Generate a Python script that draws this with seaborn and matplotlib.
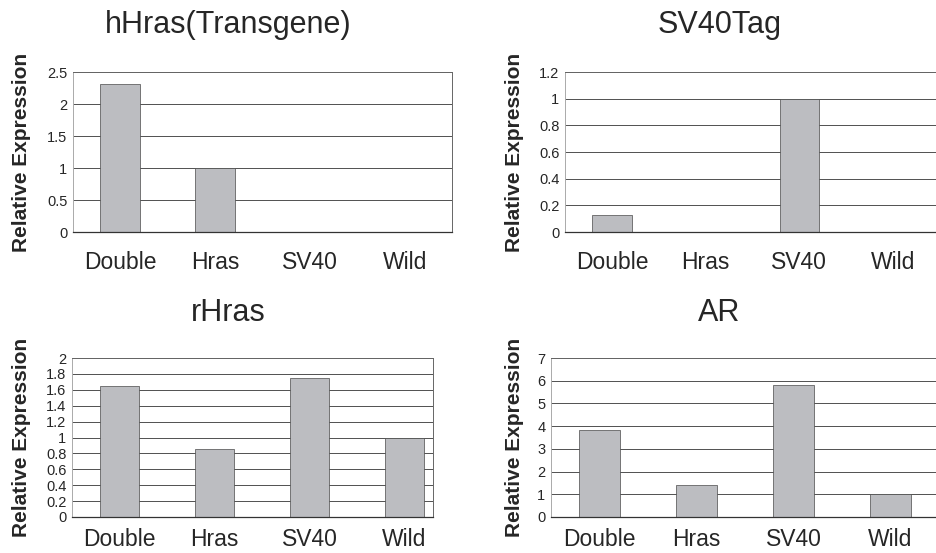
import pandas as pd
import seaborn as sns
import matplotlib.pyplot as plt

groups = ['Double', 'Hras', 'SV40', 'Wild']

hhras = [2.31, 1.0, 0.0, 0.0]
sv40tag = [0.125, 0.0, 1.0, 0.0]
rhras = [1.65, 0.86, 1.75, 1.0]
ar = [3.85, 1.4, 5.8, 1.0]

titles = ['hHras(Transgene)', 'SV40Tag', 'rHras', 'AR']
ymax = [2.5, 1.2, 2.0, 7.0]
ysteps = [0.5, 0.2, 0.2, 1.0]
ylabel = 'Relative Expression'

sns.set_style('white')
plt.rcParams['font.family'] = ['Liberation Sans', 'DejaVu Sans']

W, H = 936, 553
fig = plt.figure(figsize=(W / 100, H / 100), dpi=100)

# axes boxes in pixels: left, right, top, bottom (right edges cropped in the source)
boxes = [(73, 452, 72, 232), (565, 940, 72, 232),
         (72, 433, 358, 517), (551, 939, 358, 517)]
xright = [3.5, 3.5, 3.3, 3.5]
title_pos = [(228, 25), (720, 25), (228, 313), (719, 313)]
ylab_x = [22, 514, 22, 514]
xpad = [14, 14, 8, 8]

bar_color = '#bcbdc1'

for i, vals in enumerate([hhras, sv40tag, rhras, ar]):
    l, r, t, b = boxes[i]
    ax = fig.add_axes([l / W, 1 - b / H, (r - l) / W, (b - t) / H])
    df = pd.DataFrame({'group': groups, 'value': vals})
    sns.barplot(data=df, x='group', y='value', ax=ax, color=bar_color,
                saturation=1, width=0.42, edgecolor='#4a4a4a', linewidth=0.5)
    ax.set_xlim(-0.5, xright[i])
    ax.set_ylim(0, ymax[i])
    n = int(round(ymax[i] / ysteps[i]))
    ticks = [round(k * ysteps[i], 2) for k in range(n + 1)]
    ax.set_yticks(ticks)
    ax.set_yticklabels([f'{v:g}' for v in ticks], fontsize=10.5)
    ax.yaxis.grid(True, color='#505050', linewidth=0.7)
    ax.set_axisbelow(True)
    ax.tick_params(axis='y', length=0, pad=4)
    ax.tick_params(axis='x', which='major', length=0, pad=xpad[i], labelsize=16.5)
    ax.set_xticks([0.5, 1.5, 2.5], minor=True)
    ax.tick_params(axis='x', which='minor', direction='in', length=4,
                   width=0.7, color='#333333')
    ax.set_xlabel('')
    ax.set_ylabel('')
    for side in ['top', 'right']:
        ax.spines[side].set_color('#666666')
        ax.spines[side].set_linewidth(0.7)
    ax.spines['left'].set_color('#aaaaaa')
    ax.spines['left'].set_linewidth(0.7)
    ax.spines['bottom'].set_color('#333333')
    ax.spines['bottom'].set_linewidth(0.9)

    tx, ty = title_pos[i]
    fig.text(tx / W, 1 - ty / H, titles[i], fontsize=22, ha='center', va='center')
    fig.text(ylab_x[i] / W, 1 - ((t + b) / 2) / H, ylabel, fontsize=15,
             fontweight='bold', rotation=90, ha='center', va='center')

fig.savefig('out.png', dpi=100)
